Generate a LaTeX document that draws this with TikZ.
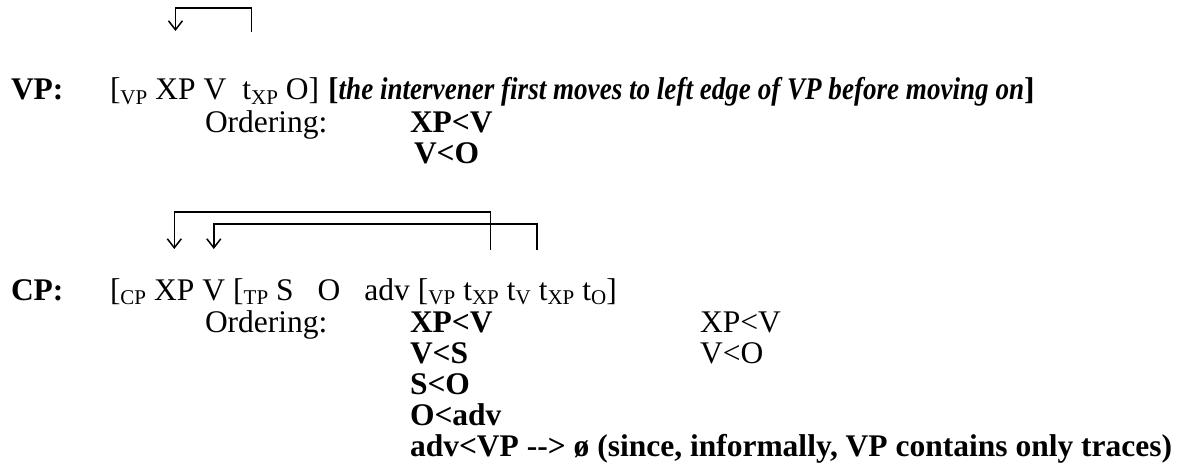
\documentclass[tikz,border=0pt]{standalone}
\usepackage{fontspec}
\setmainfont{Liberation Serif}
\usetikzlibrary{arrows.meta}
\newcommand\sbs[1]{\smash{\raisebox{-0.15em}{\fontsize{21}{21}\selectfont #1}}}
\begin{document}
\begin{tikzpicture}[x=1pt,y=-1pt,
  every node/.style={inner sep=0pt,outer sep=0pt,anchor=base west,font=\fontsize{31.5}{36}\selectfont},
  bf/.style={font=\fontsize{31.5}{36}\selectfont\bfseries},
  mv/.style={line width=1.5pt,-{Straight Barb[length=9pt,width=14pt]}}]
\useasboundingbox (0,0) rectangle (1177,476);
% ---------- VP ----------
\node[bf] (vplab) at (11,100) {VP:};
\node (vp1) at (110,100) {[\sbs{VP}};
\node (vp2) at ([xshift=8]vp1.base east) {XP};
\node (vp3) at ([xshift=8]vp2.base east) {V};
\node (vp4) at ([xshift=16]vp3.base east) {t\sbs{XP}};
\node (vp5) at ([xshift=8]vp4.base east) {O]};
\node (vp6) at ([xshift=9]vp5.base east) {\textbf{[}\scalebox{0.86}[1]{\bfseries\itshape the intervener first moves to left edge of VP before moving on}\textbf{]}};
\node (vpord) at (205,132) {Ordering:};
\node[bf] (vpo1) at (410,132) {XP<V};
\node[bf] (vpo2) at (414,163) {V<O};
\coordinate (h1) at (0,8);
\coordinate (b1) at (0,32);
\coordinate (t1) at (0,31);
\coordinate (r1) at ([xshift=9]vp4.base west);
\draw[mv] (r1 |- b1) -- (r1 |- h1) -- (vp2.center |- h1) -- (vp2.center |- t1);
% ---------- CP ----------
\node[bf] (cplab) at (11,300) {CP:};
\node (cp1) at (110,300) {[\sbs{CP}};
\node (cp2) at ([xshift=8]cp1.base east) {XP};
\node (cp3) at ([xshift=8]cp2.base east) {V};
\node (cp4) at ([xshift=8]cp3.base east) {[\sbs{TP}};
\node (cp5) at ([xshift=8]cp4.base east) {S};
\node (cp6) at ([xshift=24]cp5.base east) {O};
\node (cp7) at ([xshift=24]cp6.base east) {adv};
\node (cp8) at ([xshift=8]cp7.base east) {[\sbs{VP}};
\node (cp9) at ([xshift=8]cp8.base east) {t\sbs{XP}};
\node (cp10) at ([xshift=8]cp9.base east) {t\sbs{V}};
\node (cp11) at ([xshift=8]cp10.base east) {t\sbs{XP}};
\node (cp12) at ([xshift=8]cp11.base east) {t\sbs{O}]};
\node (cpord) at (205,332) {Ordering:};
\node[bf] (co1) at (410,332) {XP<V};
\node[bf] (co2) at (410,363) {V<S};
\node[bf] (co3) at (410,394) {S<O};
\node[bf] (co4) at (410,425) {O<adv};
\node[bf] (co5) at (410,456) {adv<VP -{}-{}> ø (since, informally, VP contains only traces)};
\node (cq1) at (700,332) {XP<V};
\node (cq2) at (700,363) {V<O};
\coordinate (h2) at (0,212);
\coordinate (h3) at (0,224);
\coordinate (b2) at (0,250);
\coordinate (t2) at (0,249);
\coordinate (r2) at ([xshift=27]cp9.base west);
\coordinate (r3) at ([xshift=30]cp10.base west);
\draw[mv] (r2 |- b2) -- (r2 |- h2) -- (cp2.center |- h2) -- (cp2.center |- t2);
\draw[mv] (r3 |- b2) -- (r3 |- h3) -- (cp3.center |- h3) -- (cp3.center |- t2);
\end{tikzpicture}
\end{document}
